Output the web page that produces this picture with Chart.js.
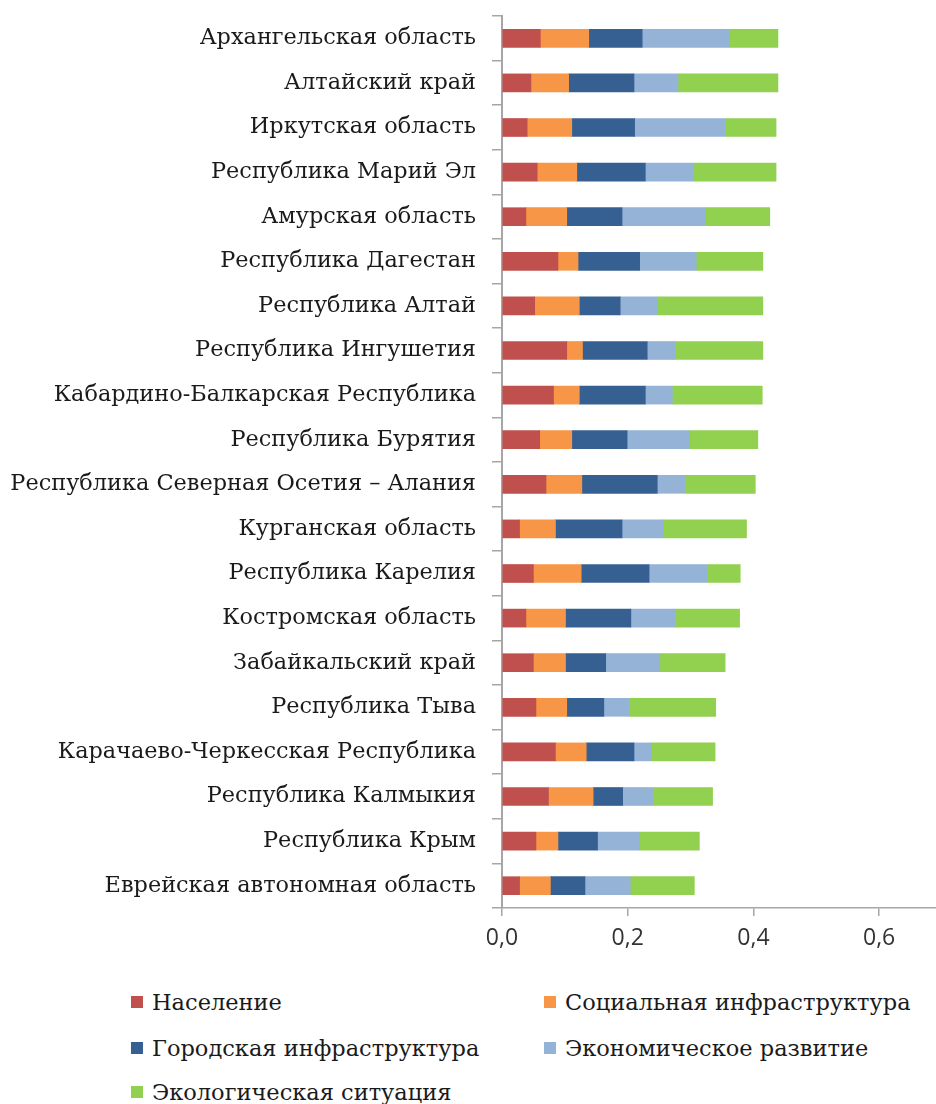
<!DOCTYPE html>
<html lang="ru">
<head>
<meta charset="utf-8">
<title>Индекс по регионам</title>
<script src="https://cdn.jsdelivr.net/npm/chart.js@4.4.1/dist/chart.umd.min.js"></script>
<style>
    html, body { margin: 0; padding: 0; background: #fff; overflow: hidden; }
    #wrap { position: absolute; left: 0; top: 0; width: 942px; height: 960px; }
    #legend { position: absolute; left: 0; top: 960px; width: 936px; height: 144px;
              font-family: 'DejaVu Serif', serif; font-size: 22.5px; color: #1a1a1a; }
    .item { position: absolute; white-space: nowrap; line-height: 26px; }
    .box { position: absolute; left: 0; top: 7px; width: 12px; height: 12px; }
    .txt { position: absolute; left: 21px; top: 0; }
</style>
</head>
<body>
<div id="wrap"><canvas id="chart" width="942" height="960"></canvas></div>
<div id="legend"></div>
<script>
// Regions, top to bottom
const regions = [
    'Архангельская область',
    'Алтайский край',
    'Иркутская область',
    'Республика Марий Эл',
    'Амурская область',
    'Республика Дагестан',
    'Республика Алтай',
    'Республика Ингушетия',
    'Кабардино-Балкарская Республика',
    'Республика Бурятия',
    'Республика Северная Осетия – Алания',
    'Курганская область',
    'Республика Карелия',
    'Костромская область',
    'Забайкальский край',
    'Республика Тыва',
    'Карачаево-Черкесская Республика',
    'Республика Калмыкия',
    'Республика Крым',
    'Еврейская автономная область'
];

// Series values
const population = [0.061, 0.046, 0.040, 0.056, 0.038, 0.089, 0.052, 0.103, 0.082, 0.060,
                    0.070, 0.028, 0.050, 0.038, 0.050, 0.054, 0.085, 0.074, 0.054, 0.028];
const socialInfra = [0.077, 0.060, 0.071, 0.063, 0.065, 0.032, 0.071, 0.025, 0.041, 0.051,
                     0.057, 0.057, 0.076, 0.063, 0.051, 0.049, 0.049, 0.071, 0.035, 0.049];
const urbanInfra = [0.085, 0.104, 0.100, 0.109, 0.088, 0.098, 0.065, 0.103, 0.105, 0.088,
                    0.120, 0.106, 0.108, 0.104, 0.064, 0.059, 0.076, 0.047, 0.063, 0.055];
const economy = [0.138, 0.070, 0.144, 0.077, 0.133, 0.090, 0.059, 0.045, 0.043, 0.098,
                 0.045, 0.065, 0.093, 0.071, 0.086, 0.041, 0.027, 0.049, 0.067, 0.072];
const ecology = [0.078, 0.159, 0.081, 0.131, 0.102, 0.106, 0.168, 0.139, 0.143, 0.110,
                 0.111, 0.133, 0.052, 0.102, 0.104, 0.137, 0.102, 0.094, 0.095, 0.102];

const seriesNames = ['Население', 'Социальная инфраструктура', 'Городская инфраструктура',
                     'Экономическое развитие', 'Экологическая ситуация'];
const seriesData = [population, socialInfra, urbanInfra, economy, ecology];
const seriesColors = ['#C0504D', '#F79646', '#376092', '#95B3D7', '#92D050'];

const xTicks = [0, 0.2, 0.4, 0.6];

const datasets = seriesNames.map((name, i) => ({
    label: name,
    data: seriesData[i],
    backgroundColor: seriesColors[i],
    borderWidth: 0,
    barThickness: 18
}));

new Chart(document.getElementById('chart'), {
    type: 'bar',
    data: { labels: regions, datasets: datasets },
    options: {
        indexAxis: 'y',
        responsive: false,
        animation: false,
        devicePixelRatio: 1,
        layout: { padding: { top: 16, right: 0, left: 0, bottom: 0 } },
        plugins: { legend: { display: false }, tooltip: { enabled: false } },
        scales: {
            x: {
                stacked: true,
                min: 0,
                max: 0.7,
                afterFit: s => { s.height = 52; },
                afterBuildTicks: s => { s.ticks = xTicks.map(v => ({ value: v })); },
                grid: { drawOnChartArea: false, tickLength: 8, color: '#A6A6A6', lineWidth: 1.5 },
                border: { color: '#A6A6A6', width: 1.5 },
                ticks: {
                    padding: 9,
                    color: '#333',
                    font: { family: 'Open Sans', size: 23 },
                    callback: v => v.toFixed(1).replace('.', ',')
                }
            },
            y: {
                stacked: true,
                // fixed width, and no extra room above/below for the labels
                afterFit: s => { s.width = 502; s.paddingTop = 0; s.paddingBottom = 0; },
                grid: { drawOnChartArea: false, offset: true, tickLength: 10, color: '#A6A6A6', lineWidth: 1.5 },
                border: { color: '#A6A6A6', width: 2 },
                ticks: {
                    padding: 16,
                    color: '#1a1a1a',
                    font: { family: 'DejaVu Serif', size: 22.4 }
                }
            }
        }
    }
});

// Legend: two columns, like the original
const legendCols = [131, 544];
const legendRows = [989, 1035, 1079];
const legend = document.getElementById('legend');
seriesNames.forEach((name, i) => {
    const item = document.createElement('div');
    item.className = 'item';
    item.style.left = legendCols[i % 2] + 'px';
    item.style.top = (legendRows[Math.floor(i / 2)] - 960) + 'px';
    item.innerHTML = '<span class="box" style="background:' + seriesColors[i] + '"></span>' +
                     '<span class="txt">' + name + '</span>';
    legend.appendChild(item);
});
</script>
</body>
</html>
